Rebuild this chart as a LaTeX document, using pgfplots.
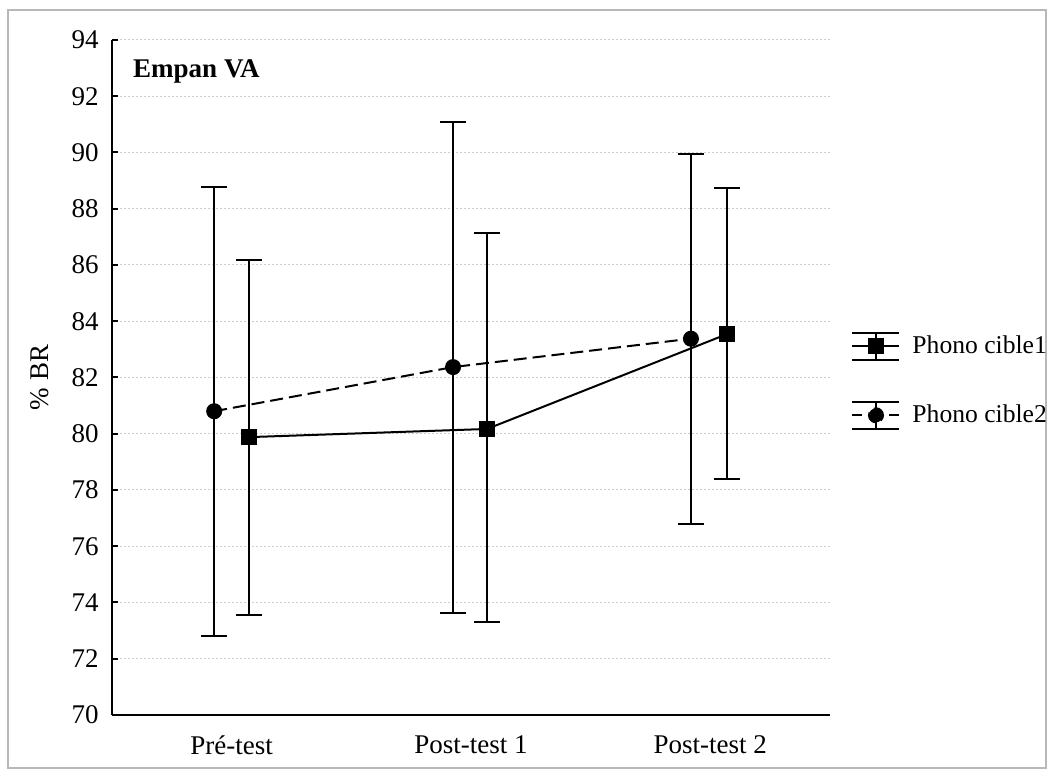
\documentclass[border=0pt]{standalone}
\usepackage{fontspec}
\setmainfont{Liberation Serif}
\usepackage{pgfplots}
\pgfplotsset{compat=1.18}
\begin{document}
\fontsize{13.5}{16}\selectfont
\begin{tikzpicture}
\useasboundingbox (-56pt,-30.5pt) rectangle (471pt,357.5pt);
\draw[color=black!28, line width=0.8pt] (-52pt,-26.5pt) rectangle (467pt,352.5pt);
\begin{axis}[
  at={(0,0)}, anchor=south west,
  scale only axis, width=359pt, height=337.5pt,
  xmin=-0.5, xmax=2.5, ymin=70, ymax=94,
  axis x line*=bottom, axis y line*=left,
  axis line style={line width=1.1pt, -},
  xtick={0,1,2}, xticklabels={Pré-test, Post-test 1, Post-test 2},
  xtick style={draw=none},
  ytick={70,72,...,94},
  ytick style={line width=1pt, black},
  major tick length=3pt, tick align=inside,
  ymajorgrids,
  grid style={black!20, line width=0.5pt, dash pattern=on 1.2pt off 0.8pt},
  /pgf/number format/assume math mode=true,
  yticklabel style={xshift=-2pt},
  xticklabel style={yshift=-5.5pt},
  ylabel={\% BR},
  ylabel style={at={(axis description cs:-0.1,0.5)}, anchor=center},
  legend style={draw=none, fill=none, at={(rel axis cs:1.021,0.495)}, anchor=west,
    row sep=19.5pt, font=\fontsize{12.8}{15}\selectfont},
  legend cell align=left,
  clip=false,
]
\addplot[black, line width=1pt, mark=square*, mark size=3.5pt, mark options={solid},
  legend image code/.code={
    \draw[solid, line width=1pt] (0pt,6.7pt) -- (23.5pt,6.7pt) (0pt,-6.7pt) -- (23.5pt,-6.7pt)
      (11.75pt,6.7pt) -- (11.75pt,-6.7pt) (0pt,0pt) -- (23.5pt,0pt);
    \fill (8.25pt,-3.5pt) rectangle (15.25pt,3.5pt);
  },
  error bars/.cd, y dir=both, y explicit,
  error bar style={line width=1pt, solid},
  error mark options={rotate=90, mark size=6.5pt, line width=1pt, solid}]
  coordinates {
   (0.073,79.88) += (0,6.29) -= (0,6.34)
   (1.067,80.17) += (0,6.98) -= (0,6.86)
   (2.069,83.54) += (0,5.18) -= (0,5.14)
  };
\addlegendentry{\hspace{4pt}Phono cible1}
\addplot[black, line width=1pt, dash pattern=on 6.5pt off 3pt, mark=*, mark size=3.5pt, mark options={solid},
  legend image code/.code={
    \draw[solid, line width=1pt] (0pt,6.7pt) -- (23.5pt,6.7pt) (0pt,-6.7pt) -- (23.5pt,-6.7pt)
      (11.75pt,6.7pt) -- (11.75pt,-6.7pt) (0pt,0pt) -- (5pt,0pt) (18.5pt,0pt) -- (23.5pt,0pt);
    \fill (11.75pt,0pt) circle (3.5pt);
  },
  error bars/.cd, y dir=both, y explicit,
  error bar style={line width=1pt, solid},
  error mark options={rotate=90, mark size=6.5pt, line width=1pt, solid}]
  coordinates {
   (-0.073,80.80) += (0,7.98) -= (0,8.00)
   (0.925,82.37) += (0,8.72) -= (0,8.74)
   (1.919,83.38) += (0,6.56) -= (0,6.58)
  };
\addlegendentry{\hspace{4pt}Phono cible2}
\node[anchor=west, inner sep=0pt, font=\bfseries] at (rel axis cs:0.029,0.954) {Empan VA};
\end{axis}
\end{tikzpicture}
\end{document}
